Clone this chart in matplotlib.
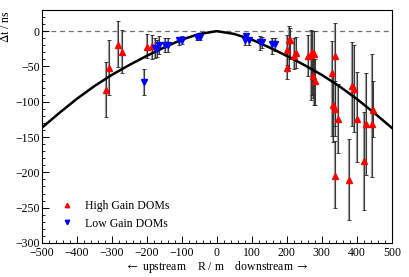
import matplotlib
matplotlib.use('Agg')
import matplotlib.pyplot as plt
import numpy as np
from matplotlib.ticker import MultipleLocator

plt.rcParams['font.family'] = ['Liberation Serif', 'DejaVu Serif']
plt.rcParams['mathtext.fontset'] = 'stix'

# fit curve
curve_r = [-500, -450, -400, -350, -300, -250, -200, -150, -100, -50, 0,
           50, 100, 150, 200, 250, 300, 350, 400, 450, 500]
curve_dt = [-137, -116, -96, -78, -62, -48, -35, -23, -12, -4, 0,
            -4, -12, -23, -35, -48, -62, -78, -96, -116, -137]

# high gain DOMs: R, dt, lower and upper error bar ends
hg_r = [-316, -309, -281, -271, -200, -185, 200, 200, 207, 210, 220, 225,
        261, 268, 272, 279, 275, 281, 328, 333, 338, 338, 345, 338, 378,
        386, 392, 400, 421, 427, 443, 446]
hg_dt = [-83, -52, -19, -30, -23, -21, -52, -26, -13, -13, -35, -31,
         -35, -34, -29, -32, -64, -71, -59, -104, -35, -110, -124, -205, -211,
         -77, -82, -124, -184, -132, -131, -111]
hg_lo = [-122, -90, -51, -59, -38, -40, -68, -48, -52, -40, -54, -52,
         -64, -97, -90, -104, -95, -104, -148, -157, -135, -148, -172, -251, -268,
         -134, -143, -186, -253, -204, -207, -150]
hg_hi = [-43, -12, 14, 1, -4, -5, -35, -5, 7, 5, -9, -8,
         -5, 2, 0, 0, -30, -40, -14, -64, 12, -70, -75, -156, -153,
         -16, -20, -58, -115, -59, -32, -70]

# low gain DOMs
lg_r = [-207, -176, -171, -164, -147, -140, -107, -99, -57, -48,
        83, 80, 91, 123, 130, 158, 165]
lg_dt = [-72, -24, -25, -19, -20, -19, -13, -12, -8.5, -8,
         -7, -13, -13, -15, -15, -18, -18]
lg_lo = [-91, -38, -36, -33, -30, -29, -19, -18, -13, -12,
         -12, -20, -20, -26, -24, -32, -28]
lg_hi = [-54, -10, -12, -7, -10, -9, -8, -7, -5, -5,
         -2, -8, -8, -7, -8, -9, -10]


def bars(ax, r, dt, lo, hi):
    dt = np.array(dt, dtype=float)
    yerr = [dt - np.array(lo), np.array(hi) - dt]
    ax.errorbar(r, dt, yerr=yerr, fmt='none', ecolor='0.62', elinewidth=1.6,
                capsize=0, zorder=2)
    ax.errorbar(r, dt, yerr=yerr, fmt='none', ecolor='0.15', elinewidth=0.6,
                capsize=1.3, capthick=0.6, zorder=3)


fig = plt.figure(figsize=(4.09, 2.77), dpi=100)
ax = fig.add_axes([0.102, 0.123, 0.856, 0.841])

ax.axhline(0, color='0.45', lw=0.9, ls=(0, (4, 3)), zorder=1)
bars(ax, hg_r, hg_dt, hg_lo, hg_hi)
bars(ax, lg_r, lg_dt, lg_lo, lg_hi)
ax.plot(curve_r, curve_dt, color='black', lw=1.8, zorder=4)
ax.plot(hg_r, hg_dt, ls='none', marker='^', ms=4, color='#ff0000',
        mec='#ff0000', label='High Gain DOMs', zorder=5)
ax.plot(lg_r, lg_dt, ls='none', marker='v', ms=4, color='#0000ff',
        mec='#0000ff', label='Low Gain DOMs', zorder=5)

ax.set_xlim(-500, 500)
ax.set_ylim(-300, 30)
ax.xaxis.set_major_locator(MultipleLocator(100))
ax.xaxis.set_minor_locator(MultipleLocator(20))
ax.yaxis.set_major_locator(MultipleLocator(50))
ax.yaxis.set_minor_locator(MultipleLocator(10))
ax.tick_params(which='both', direction='in', top=False, right=False,
               labelsize=8.5, pad=1.5)
ax.tick_params(axis='x', pad=3)
ax.tick_params(which='major', length=5, width=0.7)
ax.tick_params(which='minor', length=2.5, width=0.6)
for s in ax.spines.values():
    s.set_linewidth(0.8)

ax.set_xlabel('$\\leftarrow$ upstream    R / m    downstream $\\rightarrow$',
              fontsize=8.5, labelpad=0)
ax.set_ylabel('$\\Delta$t / ns', fontsize=8.5, loc='top', labelpad=2)

leg = ax.legend(loc='lower left', bbox_to_anchor=(0.025, 0.012), frameon=False,
                fontsize=8.5, handlelength=1.0, handletextpad=1.0,
                labelspacing=0.45, markerscale=0.8)

fig.savefig('out.png', dpi=100)
